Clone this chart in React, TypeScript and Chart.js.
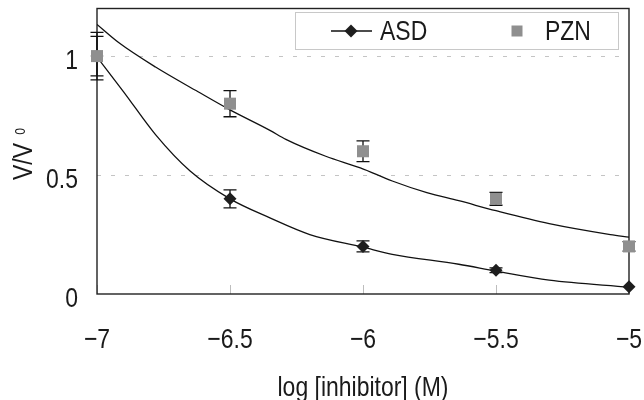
import React, { useEffect, useRef } from 'react';
import { Chart, registerables } from 'chart.js';

Chart.register(...registerables);

const FONT = '"Liberation Sans", Arial, sans-serif';
const NARROW = 0.82;

// ---- data ----
const xValues = [-7, -6.5, -6, -5.5, -5];
const asdValues = [1.0, 0.4, 0.2, 0.1, 0.03];
const asdErrors = [0.083, 0.038, 0.023, 0.01, 0];
const pznValues = [1.0, 0.8, 0.6, 0.4, 0.2];
const pznErrors = [0.1, 0.055, 0.044, 0.027, 0.02];

const pznFitX = [-7, -6.92, -6.78, -6.62, -6.5, -6.35, -6.29, -6.14, -6.01, -5.89, -5.76, -5.64, -5.5, -5.3, -5.07, -5];
const pznFitY = [1.133, 1.058, 0.954, 0.85, 0.774, 0.688, 0.65, 0.579, 0.53, 0.475, 0.426, 0.392, 0.35, 0.296, 0.25, 0.239];
const asdFitX = [-7, -6.9, -6.78, -6.65, -6.5, -6.35, -6.2, -6.0, -5.89, -5.64, -5.5, -5.3, -5];
const asdFitY = [0.996, 0.85, 0.67, 0.517, 0.4, 0.32, 0.25, 0.197, 0.167, 0.125, 0.096, 0.058, 0.029];

const xTickValues = [-7, -6.5, -6, -5.5, -5];
const xTickLabels = ['\u22127', '\u22126.5', '\u22126', '\u22125.5', '\u22125'];
const yTickValues = [0, 0.5, 1];
const yTickLabels = ['0', '0.5', '1'];

const seriesNames = ['ASD', 'PZN'];
const xTitle = 'log [inhibitor] (M)';
const yTitleMain = 'V/V';
const yTitleSub = '0';

const ASD_COLOR = '#1e1e1e';
const PZN_COLOR = '#8f8f8f';
const TEXT_COLOR = '#1a1a1a';

const pts = (xs: number[], ys: number[]) => xs.map((x, i) => ({ x, y: ys[i] }));

function narrowText(ctx: CanvasRenderingContext2D, text: string, x: number, y: number, size: number, align: CanvasTextAlign) {
  ctx.save();
  ctx.font = `${size}px ${FONT}`;
  ctx.fillStyle = TEXT_COLOR;
  ctx.textBaseline = 'alphabetic';
  ctx.textAlign = align;
  ctx.translate(x, y);
  ctx.scale(NARROW, 1);
  ctx.fillText(text, 0, 0);
  ctx.restore();
}

const decorPlugin = {
  id: 'decor',
  beforeDatasetsDraw(chart: any) {
    const { ctx, chartArea: a, scales } = chart;
    const xs = scales.x;
    const ys = scales.y;
    ctx.save();
    // dashed horizontal grid
    ctx.strokeStyle = '#c4c4c4';
    ctx.lineWidth = 1;
    ctx.setLineDash([4, 10]);
    yTickValues.forEach((v) => {
      if (v === 0) return;
      const py = Math.round(ys.getPixelForValue(v)) + 0.5;
      ctx.beginPath();
      ctx.moveTo(a.left, py);
      ctx.lineTo(a.right, py);
      ctx.stroke();
    });
    ctx.setLineDash([]);
    // small inner ticks on x axis
    ctx.strokeStyle = '#bdbdbd';
    xTickValues.forEach((v) => {
      const px = Math.round(xs.getPixelForValue(v)) + 0.5;
      ctx.beginPath();
      ctx.moveTo(px, a.bottom);
      ctx.lineTo(px, a.bottom - 9);
      ctx.stroke();
    });
    // frame
    ctx.strokeStyle = '#222';
    ctx.lineWidth = 1.4;
    ctx.strokeRect(a.left, a.top, a.right - a.left, a.bottom - a.top);
    // error bars
    ctx.strokeStyle = '#111';
    ctx.lineWidth = 1.3;
    const drawErr = (vals: number[], errs: number[]) => {
      vals.forEach((v, i) => {
        const e = errs[i];
        if (!e) return;
        const px = xs.getPixelForValue(xValues[i]);
        const p1 = ys.getPixelForValue(v + e);
        const p2 = ys.getPixelForValue(v - e);
        ctx.beginPath();
        ctx.moveTo(px, p1);
        ctx.lineTo(px, p2);
        ctx.moveTo(px - 6.5, p1);
        ctx.lineTo(px + 6.5, p1);
        ctx.moveTo(px - 6.5, p2);
        ctx.lineTo(px + 6.5, p2);
        ctx.stroke();
      });
    };
    drawErr(asdValues, asdErrors);
    drawErr(pznValues, pznErrors);
    ctx.restore();
  },
  afterDraw(chart: any) {
    const { ctx, chartArea: a, scales } = chart;
    const xs = scales.x;
    const ys = scales.y;
    ctx.save();
    // tick labels
    xTickValues.forEach((v, i) => {
      narrowText(ctx, xTickLabels[i], xs.getPixelForValue(v), 348, 28, 'center');
    });
    yTickValues.forEach((v, i) => {
      narrowText(ctx, yTickLabels[i], 78, ys.getPixelForValue(v) + 13, 28, 'right');
    });
    // legend
    ctx.fillStyle = '#fff';
    ctx.fillRect(295.5, 12.5, 323, 37);
    ctx.strokeStyle = '#c8c8c8';
    ctx.lineWidth = 1;
    ctx.strokeRect(295.5, 12.5, 323, 37);
    ctx.strokeStyle = '#111';
    ctx.lineWidth = 1.3;
    ctx.beginPath();
    ctx.moveTo(331, 31);
    ctx.lineTo(372, 31);
    ctx.stroke();
    ctx.fillStyle = ASD_COLOR;
    ctx.beginPath();
    ctx.moveTo(351 - 6.5, 31);
    ctx.lineTo(351, 31 - 6.5);
    ctx.lineTo(351 + 6.5, 31);
    ctx.lineTo(351, 31 + 6.5);
    ctx.closePath();
    ctx.fill();
    ctx.fillStyle = PZN_COLOR;
    ctx.fillRect(511.5, 25.5, 11, 11);
    narrowText(ctx, seriesNames[0], 380, 40, 28, 'left');
    narrowText(ctx, seriesNames[1], 545, 40, 28, 'left');
    // x title
    narrowText(ctx, xTitle, (a.left + a.right) / 2, 396, 28, 'center');
    // y title (rotated)
    ctx.translate(32, 180);
    ctx.rotate(-Math.PI / 2);
    ctx.scale(NARROW, 1);
    ctx.fillStyle = TEXT_COLOR;
    ctx.textAlign = 'left';
    ctx.textBaseline = 'alphabetic';
    ctx.font = `28px ${FONT}`;
    ctx.fillText(yTitleMain, 0, 0);
    const w = ctx.measureText(yTitleMain).width;
    ctx.font = `15px ${FONT}`;
    ctx.fillText(yTitleSub, w + 10, -7);
    ctx.restore();
  },
};

export default function App() {
  const ref = useRef<HTMLCanvasElement>(null);
  useEffect(() => {
    document.body.style.margin = '0';
    const chart = new Chart(ref.current as HTMLCanvasElement, {
      type: 'scatter',
      data: {
        datasets: [
          {
            label: seriesNames[1],
            data: pts(xValues, pznValues),
            pointStyle: 'rect',
            pointRadius: 8.5,
            pointBackgroundColor: PZN_COLOR,
            pointBorderWidth: 0,
            showLine: false,
            clip: false,
            order: 0,
          } as any,
          {
            label: seriesNames[0],
            data: pts(xValues, asdValues),
            pointStyle: 'rectRot',
            pointRadius: 6.5,
            pointBackgroundColor: ASD_COLOR,
            pointBorderWidth: 0,
            showLine: false,
            clip: false,
            order: 1,
          } as any,
          {
            label: 'PZN fit',
            data: pts(pznFitX, pznFitY),
            showLine: true,
            borderColor: '#111',
            borderWidth: 1.3,
            pointRadius: 0,
            cubicInterpolationMode: 'monotone',
            order: 2,
          } as any,
          {
            label: 'ASD fit',
            data: pts(asdFitX, asdFitY),
            showLine: true,
            borderColor: '#111',
            borderWidth: 1.3,
            pointRadius: 0,
            cubicInterpolationMode: 'monotone',
            order: 2,
          } as any,
        ],
      },
      options: {
        responsive: false,
        animation: false,
        layout: { padding: { top: 6, right: 15, left: 0, bottom: 0 } },
        plugins: { legend: { display: false }, tooltip: { enabled: false } },
        scales: {
          x: {
            type: 'linear',
            min: -7,
            max: -5,
            afterFit: (s: any) => {
              s.height = 106;
              s.paddingLeft = 0;
              s.paddingRight = 0;
              s.paddingTop = 0;
              s.paddingBottom = 0;
            },
            afterBuildTicks: (s: any) => { s.ticks = xTickValues.map((v) => ({ value: v })); },
            grid: { display: false, drawTicks: false },
            border: { display: false },
            ticks: { display: false },
          },
          y: {
            type: 'linear',
            min: 0,
            max: 1.2,
            afterFit: (s: any) => {
              s.width = 97;
              s.paddingLeft = 0;
              s.paddingRight = 0;
              s.paddingTop = 0;
              s.paddingBottom = 0;
            },
            afterBuildTicks: (s: any) => { s.ticks = yTickValues.map((v) => ({ value: v })); },
            grid: { display: false, drawTicks: false },
            border: { display: false },
            ticks: { display: false },
          },
        },
      },
      plugins: [decorPlugin],
    });
    return () => chart.destroy();
  }, []);
  return (
    <div style={{ width: 644, height: 400 }}>
      <canvas ref={ref} width={644} height={400} style={{ display: 'block' }} />
    </div>
  );
}
